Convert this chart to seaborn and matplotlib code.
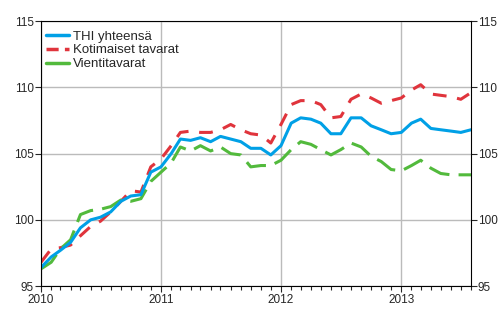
import pandas as pd
import numpy as np
import matplotlib
matplotlib.use("Agg")
import matplotlib.pyplot as plt
import matplotlib.dates as mdates
from matplotlib.lines import Line2D
import seaborn as sns

sns.set_style("white")
plt.rcParams["font.family"] = ["Liberation Sans", "DejaVu Sans"]

months = pd.date_range("2010-01-01", "2013-08-01", freq="MS")

thi_total = [96.4, 97.2, 97.7, 98.3, 99.4, 100.0, 100.2, 100.6, 101.4, 101.8, 101.9, 103.6,
             104.0, 105.0, 106.1, 106.0, 106.2, 105.9, 106.3, 106.1, 105.9, 105.4, 105.4, 104.9,
             105.6, 107.3, 107.7, 107.6, 107.3, 106.5, 106.5, 107.7, 107.7, 107.1, 106.8, 106.5,
             106.6, 107.3, 107.6, 106.9, 106.8, 106.7, 106.6, 106.8]
domestic = [96.8, 97.8, 97.9, 98.1, 98.8, 99.5, 99.9, 100.6, 101.4, 102.2, 102.1, 104.0,
            104.6, 105.6, 106.6, 106.7, 106.6, 106.6, 106.8, 107.2, 106.8, 106.5, 106.4, 105.8,
            107.2, 108.7, 109.0, 109.0, 108.7, 107.7, 107.8, 109.1, 109.5, 109.2, 108.8, 109.0,
            109.2, 109.8, 110.2, 109.5, 109.4, 109.3, 109.1, 109.6]
export = [96.3, 96.8, 97.8, 98.5, 100.4, 100.7, 100.8, 101.0, 101.5, 101.4, 101.6, 102.9,
          103.6, 104.3, 105.5, 105.2, 105.6, 105.2, 105.5, 105.0, 104.9, 104.0, 104.1, 104.1,
          104.5, 105.3, 105.9, 105.7, 105.3, 104.9, 105.3, 105.8, 105.5, 104.8, 104.4, 103.8,
          103.7, 104.1, 104.5, 103.9, 103.5, 103.4, 103.4, 103.4]

labels = ["THI yhteensä", "Kotimaiset tavarat", "Vientitavarat"]
colors = ["#00A0E6", "#E0343C", "#52BA3C"]

df = pd.DataFrame({"month": months, labels[0]: thi_total, labels[1]: domestic, labels[2]: export})

fig, ax = plt.subplots(figsize=(5, 3.3), dpi=100)
fig.subplots_adjust(left=0.082, right=0.942, top=0.936, bottom=0.133)

sns.lineplot(data=df, x="month", y=labels[1], color=colors[1], lw=2.2, ax=ax).lines[-1].set_dashes((4.5, 3.5))
sns.lineplot(data=df, x="month", y=labels[2], color=colors[2], lw=2.2, ax=ax).lines[-1].set_dashes((7, 3))
sns.lineplot(data=df, x="month", y=labels[0], color=colors[0], lw=2.2, ax=ax)

ax.set_xlim(months[0], months[-1])
ax.set_ylim(95, 115)
ax.set_yticks([95, 100, 105, 110, 115])
ax.xaxis.set_major_locator(mdates.YearLocator())
ax.xaxis.set_major_formatter(mdates.DateFormatter("%Y"))
ax.xaxis.set_minor_locator(mdates.MonthLocator())
ax.set_xlabel("")
ax.set_ylabel("")
ax.grid(True, which="major", color="#BBBBBB", lw=1)
ax.tick_params(axis="y", which="both", left=True, right=True, labelleft=True, labelright=True,
               direction="out", length=4, width=0.8, labelsize=8.5, pad=1)
ax.tick_params(axis="x", which="major", bottom=True, direction="out", length=4, width=0.8,
               labelsize=8.5, pad=2)
ax.tick_params(axis="x", which="minor", bottom=True, direction="out", length=3, width=0.8)
for s in ax.spines.values():
    s.set_color("black")
    s.set_linewidth(0.8)

handles = [Line2D([], [], color=colors[0], lw=2.5),
           Line2D([], [], color=colors[1], lw=2.5, dashes=(3.5, 1.8)),
           Line2D([], [], color=colors[2], lw=2.5)]
ax.legend(handles, labels, loc="upper left", frameon=False, fontsize=9.5,
          handlelength=1.75, handletextpad=0.25, labelspacing=0.12,
          bbox_to_anchor=(0.0, 0.985), borderaxespad=0.2, borderpad=0.2)

plt.savefig("out.png", dpi=100)
